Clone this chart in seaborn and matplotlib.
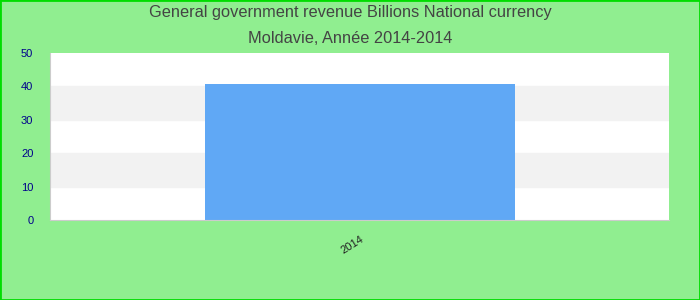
import pandas as pd
import matplotlib.pyplot as plt
import seaborn as sns

# Données
years = ['2014']
revenue = [40.8]
y_ticks = [0, 10, 20, 30, 40, 50]

df = pd.DataFrame({'Année': years, 'Revenu': revenue})

sns.set_style('white')
plt.rcParams['font.family'] = ['Liberation Sans', 'DejaVu Sans']

fig = plt.figure(figsize=(7, 3), dpi=100, facecolor='#90EE90')
fig.patches.append(plt.Rectangle((0, 0), 1, 1, transform=fig.transFigure,
                                 fill=False, edgecolor='#00DD00', linewidth=2))
ax = fig.add_axes([0.0714, 0.2667, 0.885, 0.5566])

# bandes horizontales alternées
for lo in range(10, 50, 20):
    ax.axhspan(lo, lo + 10, color='#F2F2F2', zorder=0)

sns.barplot(x='Année', y='Revenu', data=df, color='#60A8F5', width=0.5,
            saturation=1, linewidth=0, ax=ax, zorder=2)

ax.set_ylim(0, 50)
ax.set_xlim(-0.5, 0.5)
ax.set_yticks(y_ticks)
ax.tick_params(axis='y', colors='#00008B', labelsize=8, length=0, pad=12)
ax.tick_params(axis='x', colors='#222222', labelsize=8, length=0, pad=10)
plt.setp(ax.get_xticklabels(), rotation=32, ha='right', rotation_mode='anchor')
ax.set_xlabel('')
ax.set_ylabel('')

for side in ['top', 'right']:
    ax.spines[side].set_visible(False)
for side in ['left', 'bottom']:
    ax.spines[side].set_color('#CCCCCC')

fig.text(0.5, 0.957, 'General government revenue Billions National currency',
         ha='center', va='center', fontsize=11.8, color='#444444')
fig.text(0.5, 0.873, 'Moldavie, Année 2014-2014',
         ha='center', va='center', fontsize=11.8, color='#444444')

plt.savefig('out.png', dpi=100, facecolor=fig.get_facecolor())
